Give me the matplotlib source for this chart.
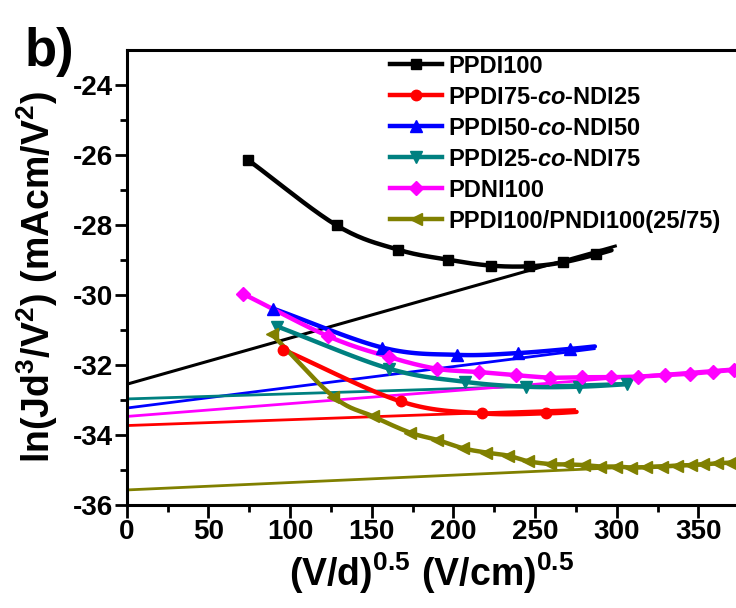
import numpy as np
import matplotlib
matplotlib.use("Agg")
import matplotlib.pyplot as plt

# ---------------- data ----------------
ppdi100_x = [74.0, 128.5, 165.8, 196.4, 222.8, 246.4, 266.8, 287.6, 296.8]
ppdi100_y = [-26.13, -28.01, -28.70, -28.99, -29.16, -29.18, -29.07, -28.84, -28.72]
ppdi100_fit_x = [0, 300]
ppdi100_fit_y = [-32.55, -28.59]

p75_x = [95.8, 167.7, 217.3, 256.6, 275.4]
p75_y = [-31.56, -33.04, -33.38, -33.38, -33.34]
p75_fit_x = [0, 275]
p75_fit_y = [-33.73, -33.27]

p50_x = [89.7, 156.3, 202.3, 239.3, 271.3, 286.6]
p50_y = [-30.39, -31.50, -31.71, -31.66, -31.54, -31.47]
p50_fit_x = [0, 287]
p50_fit_y = [-33.23, -31.53]

p25_x = [92.2, 160.3, 207.0, 244.4, 277.0, 306.0]
p25_y = [-30.90, -32.10, -32.48, -32.62, -32.62, -32.55]
p25_fit_x = [0, 307]
p25_fit_y = [-32.97, -32.52]

pdni_x = [71.4, 123.4, 160.5, 190.1, 215.6, 238.2, 259.1, 278.5, 296.2, 313.1,
          329.4, 344.7, 359.0, 371.7]
pdni_y = [-29.97, -31.18, -31.77, -32.11, -32.20, -32.29, -32.36, -32.35, -32.35,
          -32.33, -32.29, -32.25, -32.19, -32.14]
pdni_fit_x = [0, 373]
pdni_fit_y = [-33.47, -32.10]

blend_x = [88.7, 126.4, 150.9, 173.4, 190.1, 206.0, 219.9, 233.5, 245.8, 259.1,
           269.3, 280.0, 289.7, 299.4, 309.0, 318.2, 327.4, 336.6, 345.2, 352.9,
           361.1, 369.2]
blend_y = [-31.11, -32.90, -33.47, -33.93, -34.14, -34.38, -34.50, -34.59, -34.75,
           -34.83, -34.84, -34.86, -34.90, -34.90, -34.93, -34.92, -34.90, -34.88,
           -34.86, -34.84, -34.81, -34.79]
blend_fit_x = [0, 373]
blend_fit_y = [-35.57, -34.78]

labels = ["PPDI100", "PPDI75-$\\mathit{co}$-NDI25", "PPDI50-$\\mathit{co}$-NDI50",
          "PPDI25-$\\mathit{co}$-NDI75", "PDNI100", "PPDI100/PNDI100(25/75)"]
xticks = [0, 50, 100, 150, 200, 250, 300, 350]
yticks = [-36, -34, -32, -30, -28, -26, -24]

# ---------------- fonts ----------------
FAM = "Liberation Sans"
plt.rcParams["font.family"] = [FAM, "DejaVu Sans"]
plt.rcParams["font.weight"] = "bold"
plt.rcParams["axes.unicode_minus"] = False
plt.rcParams["mathtext.fontset"] = "custom"
plt.rcParams["mathtext.rm"] = FAM + ":bold"
plt.rcParams["mathtext.bf"] = FAM + ":bold"
plt.rcParams["mathtext.it"] = FAM + ":bold:italic"
plt.rcParams["mathtext.sf"] = FAM + ":bold"


def smooth(x, y, n=20):
    """Catmull-Rom spline rendering through the read points (line style)."""
    p = np.column_stack([x, y]).astype(float)
    if len(p) < 3:
        return p[:, 0], p[:, 1]
    ext = np.vstack([2 * p[0] - p[1], p, 2 * p[-1] - p[-2]])
    out = []
    t = np.linspace(0, 1, n, endpoint=False)[:, None]
    for i in range(1, len(ext) - 2):
        p0, p1, p2, p3 = ext[i - 1], ext[i], ext[i + 1], ext[i + 2]
        seg = 0.5 * ((2 * p1) + (-p0 + p2) * t + (2 * p0 - 5 * p1 + 4 * p2 - p3) * t ** 2
                     + (-p0 + 3 * p1 - 3 * p2 + p3) * t ** 3)
        out.append(seg)
    out.append(p[-1][None, :])
    out = np.vstack(out)
    return out[:, 0], out[:, 1]


fig = plt.figure(figsize=(7.36, 6.08), dpi=100)
ax = fig.add_axes([126.7 / 736, 103 / 608, (736 - 126.7) / 736, 455 / 608])

series = [
    (ppdi100_x, ppdi100_y, ppdi100_fit_x, ppdi100_fit_y, "black", "s", 7, True),
    (p75_x, p75_y, p75_fit_x, p75_fit_y, "#ff0000", "o", 7.5, True),
    (p50_x, p50_y, p50_fit_x, p50_fit_y, "#0000ff", "^", 8, True),
    (p25_x, p25_y, p25_fit_x, p25_fit_y, "#008080", "v", 8, False),
    (pdni_x, pdni_y, pdni_fit_x, pdni_fit_y, "#ff00ff", "D", 7, False),
    (blend_x, blend_y, blend_fit_x, blend_fit_y, "#808000", "<", 8, False),
]

handles = []
for (x, y, fx, fy, c, m, ms, last_unmarked), lab in zip(series, labels):
    fitlw = 2.2 if c == "black" else 2.0
    ax.plot(fx, fy, color=c, lw=fitlw, solid_capstyle="butt", zorder=2)
    sx, sy = smooth(x, y)
    ax.plot(sx, sy, color=c, lw=3.2, solid_capstyle="round", zorder=3)
    mx = x[:-1] if last_unmarked else x
    my = y[:-1] if last_unmarked else y
    ax.plot(mx, my, ls="none", marker=m, ms=ms, color=c, mec=c, zorder=4)
    h, = ax.plot([], [], color=c, lw=3.2, marker=m, ms=ms, mec=c)
    handles.append(h)

ax.set_xlim(0, 373)
ax.set_ylim(-36, -23)
ax.set_xticks(xticks)
ax.set_yticks(yticks)
ax.set_xticks(np.arange(25, 373, 50), minor=True)
ax.set_yticks(np.arange(-35, -23, 2), minor=True)
ax.tick_params(which="major", direction="out", length=9, width=2, labelsize=20, pad=1)
ax.tick_params(which="minor", direction="out", length=5, width=2)
ax.tick_params(top=False, right=False, which="both")
for lab in ax.get_xticklabels() + ax.get_yticklabels():
    lab.set_fontweight("bold")
for s in ["left", "bottom", "top"]:
    ax.spines[s].set_linewidth(2.2)
ax.spines["right"].set_visible(False)

ax.set_xlabel(r"$\mathrm{(V/d)^{0.5}\ (V/cm)^{0.5}}$", fontsize=27, labelpad=4)
ax.set_ylabel(r"$\mathrm{ln(Jd^{3}/V^{2})\ (mAcm/V^{2})}$", fontsize=27, labelpad=9)

leg = ax.legend(handles, labels, loc="upper left", bbox_to_anchor=(0.432, 0.99),
                frameon=False, fontsize=17, handlelength=2.2, handletextpad=0.28,
                labelspacing=0.34, borderpad=0.0, borderaxespad=0.0)
for t in leg.get_texts():
    t.set_fontweight("bold")

fig.text(25 / 736, 1 - 66 / 608, "b)", fontsize=38, fontweight="bold",
         family=["Liberation Sans", "DejaVu Sans"], ha="left", va="baseline")

fig.savefig("out.png", dpi=100)
